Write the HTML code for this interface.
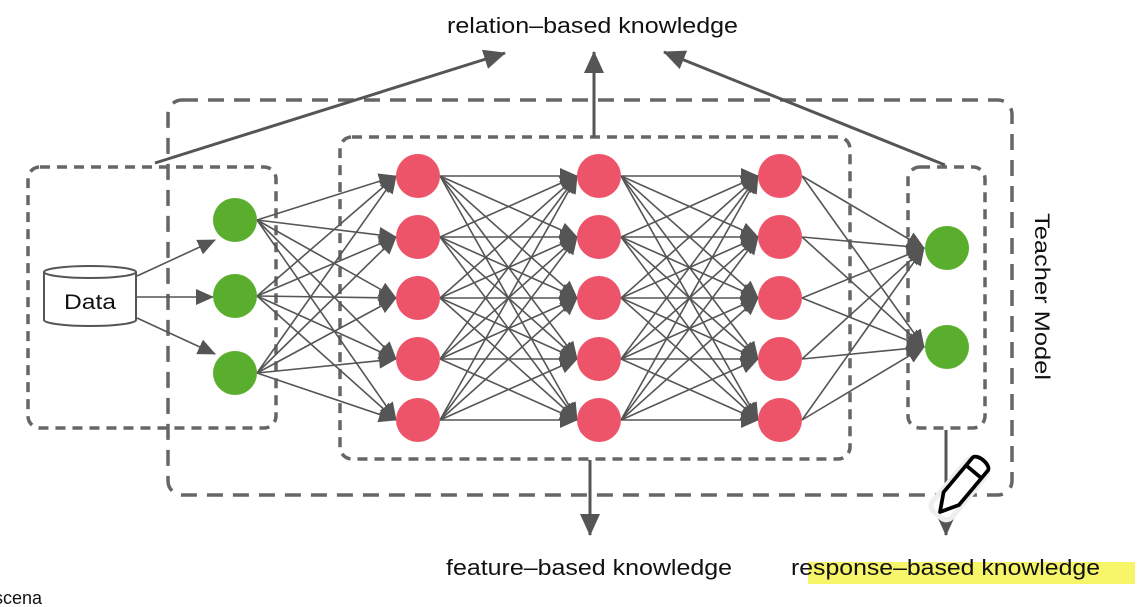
<!DOCTYPE html>
<html><head><meta charset="utf-8"><style>
html,body{margin:0;padding:0;background:#fff;width:1137px;height:607px;overflow:hidden}
text{font-family:"Liberation Sans",sans-serif;fill:#111}
</style></head><body>
<svg width="1137" height="607" viewBox="0 0 1137 607" xmlns="http://www.w3.org/2000/svg">
<defs>
<marker id="a" markerUnits="userSpaceOnUse" markerWidth="18" markerHeight="16" refX="17" refY="8" orient="auto"><path d="M0,0 L18,8 L0,16 z" fill="#555"/></marker>
<marker id="b" markerUnits="userSpaceOnUse" markerWidth="22" markerHeight="20" refX="21" refY="10" orient="auto"><path d="M0,0 L22,10 L0,20 z" fill="#555"/></marker>
</defs>
<rect x="808" y="562" width="327" height="22" fill="#f7f56a"/>
<g fill="none" stroke="#666" stroke-width="3.5">
<rect x="168" y="100" width="844" height="395" rx="14" stroke-dasharray="16 10"/>
<rect x="28" y="167" width="248" height="261" rx="12" stroke-dasharray="10 7"/>
<rect x="340" y="137" width="510" height="322" rx="12" stroke-dasharray="10 7"/>
<rect x="908" y="167" width="77" height="261" rx="12" stroke-dasharray="10 7"/>
</g>
<g stroke="#555" stroke-width="3" fill="none">
<line x1="155" y1="163" x2="505" y2="53" marker-end="url(#b)"/>
<line x1="594" y1="137" x2="594" y2="52" marker-end="url(#b)"/>
<line x1="945" y1="165" x2="664" y2="52" marker-end="url(#b)"/>
<line x1="590" y1="460" x2="590" y2="535" marker-end="url(#b)"/>
<line x1="946" y1="430" x2="946" y2="535" marker-end="url(#b)"/>
</g>
<g stroke="#555" stroke-width="1.6" marker-end="url(#a)">
<line x1="137" y1="276" x2="215" y2="240"/>
<line x1="137" y1="297" x2="213" y2="297"/>
<line x1="137" y1="318" x2="215" y2="354"/>
<line x1="257" y1="220" x2="396" y2="176"/><line x1="257" y1="220" x2="396" y2="237"/><line x1="257" y1="220" x2="396" y2="298"/><line x1="257" y1="220" x2="396" y2="359"/><line x1="257" y1="220" x2="396" y2="420"/>
<line x1="257" y1="296" x2="396" y2="176"/><line x1="257" y1="296" x2="396" y2="237"/><line x1="257" y1="296" x2="396" y2="298"/><line x1="257" y1="296" x2="396" y2="359"/><line x1="257" y1="296" x2="396" y2="420"/>
<line x1="257" y1="373" x2="396" y2="176"/><line x1="257" y1="373" x2="396" y2="237"/><line x1="257" y1="373" x2="396" y2="298"/><line x1="257" y1="373" x2="396" y2="359"/><line x1="257" y1="373" x2="396" y2="420"/>
<line x1="440" y1="176" x2="577" y2="176"/><line x1="440" y1="176" x2="577" y2="237"/><line x1="440" y1="176" x2="577" y2="298"/><line x1="440" y1="176" x2="577" y2="359"/><line x1="440" y1="176" x2="577" y2="420"/>
<line x1="440" y1="237" x2="577" y2="176"/><line x1="440" y1="237" x2="577" y2="237"/><line x1="440" y1="237" x2="577" y2="298"/><line x1="440" y1="237" x2="577" y2="359"/><line x1="440" y1="237" x2="577" y2="420"/>
<line x1="440" y1="298" x2="577" y2="176"/><line x1="440" y1="298" x2="577" y2="237"/><line x1="440" y1="298" x2="577" y2="298"/><line x1="440" y1="298" x2="577" y2="359"/><line x1="440" y1="298" x2="577" y2="420"/>
<line x1="440" y1="359" x2="577" y2="176"/><line x1="440" y1="359" x2="577" y2="237"/><line x1="440" y1="359" x2="577" y2="298"/><line x1="440" y1="359" x2="577" y2="359"/><line x1="440" y1="359" x2="577" y2="420"/>
<line x1="440" y1="420" x2="577" y2="176"/><line x1="440" y1="420" x2="577" y2="237"/><line x1="440" y1="420" x2="577" y2="298"/><line x1="440" y1="420" x2="577" y2="359"/><line x1="440" y1="420" x2="577" y2="420"/>
<line x1="621" y1="176" x2="758" y2="176"/><line x1="621" y1="176" x2="758" y2="237"/><line x1="621" y1="176" x2="758" y2="298"/><line x1="621" y1="176" x2="758" y2="359"/><line x1="621" y1="176" x2="758" y2="420"/>
<line x1="621" y1="237" x2="758" y2="176"/><line x1="621" y1="237" x2="758" y2="237"/><line x1="621" y1="237" x2="758" y2="298"/><line x1="621" y1="237" x2="758" y2="359"/><line x1="621" y1="237" x2="758" y2="420"/>
<line x1="621" y1="298" x2="758" y2="176"/><line x1="621" y1="298" x2="758" y2="237"/><line x1="621" y1="298" x2="758" y2="298"/><line x1="621" y1="298" x2="758" y2="359"/><line x1="621" y1="298" x2="758" y2="420"/>
<line x1="621" y1="359" x2="758" y2="176"/><line x1="621" y1="359" x2="758" y2="237"/><line x1="621" y1="359" x2="758" y2="298"/><line x1="621" y1="359" x2="758" y2="359"/><line x1="621" y1="359" x2="758" y2="420"/>
<line x1="621" y1="420" x2="758" y2="176"/><line x1="621" y1="420" x2="758" y2="237"/><line x1="621" y1="420" x2="758" y2="298"/><line x1="621" y1="420" x2="758" y2="359"/><line x1="621" y1="420" x2="758" y2="420"/>
<line x1="802" y1="176" x2="924" y2="248"/><line x1="802" y1="237" x2="924" y2="248"/><line x1="802" y1="298" x2="924" y2="248"/><line x1="802" y1="359" x2="924" y2="248"/><line x1="802" y1="420" x2="924" y2="248"/>
<line x1="802" y1="176" x2="924" y2="347"/><line x1="802" y1="237" x2="924" y2="347"/><line x1="802" y1="298" x2="924" y2="347"/><line x1="802" y1="359" x2="924" y2="347"/><line x1="802" y1="420" x2="924" y2="347"/>
</g>
<g fill="#5aae2e">
<circle cx="235" cy="220" r="22"/><circle cx="235" cy="296" r="22"/><circle cx="235" cy="373" r="22"/>
<circle cx="947" cy="248" r="22"/><circle cx="947" cy="347" r="22"/>
</g>
<g fill="#ee5469">
<circle cx="418" cy="176" r="22"/><circle cx="418" cy="237" r="22"/><circle cx="418" cy="298" r="22"/><circle cx="418" cy="359" r="22"/><circle cx="418" cy="420" r="22"/>
<circle cx="599" cy="176" r="22"/><circle cx="599" cy="237" r="22"/><circle cx="599" cy="298" r="22"/><circle cx="599" cy="359" r="22"/><circle cx="599" cy="420" r="22"/>
<circle cx="780" cy="176" r="22"/><circle cx="780" cy="237" r="22"/><circle cx="780" cy="298" r="22"/><circle cx="780" cy="359" r="22"/><circle cx="780" cy="420" r="22"/>
</g>
<g fill="#fff" stroke="#555" stroke-width="2">
<path d="M44,272 V320 A46,6 0 0 0 136,320 V272"/>
<ellipse cx="90" cy="272" rx="46" ry="6"/>
</g>
<text x="64" y="309" font-size="21" textLength="52" lengthAdjust="spacingAndGlyphs">Data</text>
<text x="447" y="33" font-size="22" textLength="291" lengthAdjust="spacingAndGlyphs">relation–based knowledge</text>
<text x="446" y="575" font-size="22" textLength="286" lengthAdjust="spacingAndGlyphs">feature–based knowledge</text>
<text x="791" y="575" font-size="22" textLength="309" lengthAdjust="spacingAndGlyphs">response–based knowledge</text>
<text x="0" y="0" font-size="21" transform="translate(1035,213) rotate(90)" textLength="167" lengthAdjust="spacingAndGlyphs">Teacher Model</text>
<text x="-6" y="604" font-size="18">scena</text>
<g transform="translate(940,512) rotate(-50) scale(1.25)">
<rect x="-3" y="-10" width="54" height="20" fill="#fff" stroke="#eee" stroke-width="4" rx="6"/>
<path d="M0,0 L14,-8 H50 A4,8 0 0 1 50,8 H14 Z" fill="#fff" stroke="#000" stroke-width="3" stroke-linejoin="round"/>
<line x1="42" y1="-8" x2="42" y2="8" stroke="#000" stroke-width="3"/>
</g>
</svg>
</body></html>
